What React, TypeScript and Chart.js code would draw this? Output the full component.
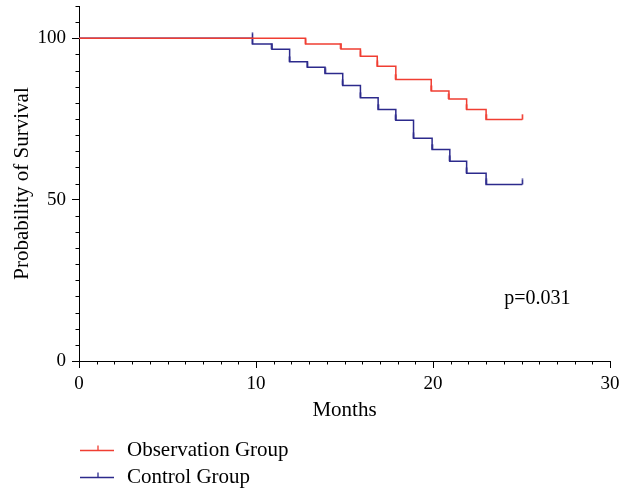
import React, { useEffect, useRef } from 'react';
import { Chart, registerables } from 'chart.js';

Chart.register(...registerables);

const FONT = "'Liberation Serif', 'Times New Roman', serif";
const RED = 'rgb(240, 62, 50)';
const BLUE = 'rgb(44, 42, 140)';

// Kaplan–Meier curves (month of step, survival % after the step)
const obsMonths = [0, 12.8, 14.8, 15.9, 16.85, 17.9, 19.9, 20.9, 21.9, 23.0, 25.05];
const obsSurvival = [100, 98.2, 96.7, 94.4, 91.3, 87.2, 83.7, 81.2, 77.9, 74.8, 74.8];
const ctlMonths = [0, 9.8, 10.9, 11.9, 12.9, 13.9, 14.9, 15.9, 16.9, 17.9, 18.9, 19.95, 20.95, 21.9, 23.0, 25.05];
const ctlSurvival = [100, 98.2, 96.6, 92.7, 91.0, 89.1, 85.4, 81.6, 77.9, 74.6, 69.0, 65.5, 61.9, 58.2, 54.7, 54.7];

// censor marks
const obsCensorMonths = [12.8, 14.8, 15.9, 16.85, 17.9, 19.9, 20.9, 21.9, 23.0, 25.05];
const obsCensorSurvival = [98.2, 96.7, 94.4, 91.3, 87.2, 83.7, 81.2, 77.9, 74.8, 74.8];
const ctlCensorMonths = [9.8, 9.8, 10.9, 11.9, 12.9, 13.9, 14.9, 15.9, 16.9, 17.9, 18.9, 19.95, 20.95, 21.9, 23.0, 25.05];
const ctlCensorSurvival = [100, 98.2, 96.6, 92.7, 91.0, 89.1, 85.4, 81.6, 77.9, 74.6, 69.0, 65.5, 61.9, 58.2, 54.7, 54.7];

const seriesLabels = ['Observation Group', 'Control Group'];
const xTickValues = [0, 10, 20, 30];
const yTickValues = [0, 50, 100];
const xMinorTicks = Array.from({ length: 31 }, (_, i) => i).filter((v) => v % 10 !== 0);
const yMinorTicks = Array.from({ length: 23 }, (_, i) => i * 5).filter((v) => v % 50 !== 0);
const xTitle = 'Months';
const yTitle = 'Probability of Survival';
const pValueText = 'p=0.031';
const pValueMonth = 25.9;
const pValueSurvival = 19.4;

function makeCensorMark(color: string) {
  const c = document.createElement('canvas');
  c.width = 3;
  c.height = 12;
  const g = c.getContext('2d')!;
  g.strokeStyle = color;
  g.lineWidth = 1.6;
  g.beginPath();
  g.moveTo(1.5, 0.5);
  g.lineTo(1.5, 6);
  g.stroke();
  return c;
}

const decorPlugin = {
  id: 'decor',
  afterDraw(chart: any) {
    const { ctx, chartArea } = chart;
    const x = chart.scales.x;
    const y = chart.scales.y;
    ctx.save();
    ctx.strokeStyle = '#000';
    ctx.lineWidth = 1;
    for (const v of xMinorTicks) {
      const px = Math.round(x.getPixelForValue(v)) + 0.5;
      ctx.beginPath();
      ctx.moveTo(px, chartArea.bottom);
      ctx.lineTo(px, chartArea.bottom + 3.5);
      ctx.stroke();
    }
    for (const v of yMinorTicks) {
      const py = Math.round(y.getPixelForValue(v)) + 0.5;
      ctx.beginPath();
      ctx.moveTo(chartArea.left - 3.5, py);
      ctx.lineTo(chartArea.left, py);
      ctx.stroke();
    }
    // p value
    ctx.fillStyle = '#000';
    ctx.font = `20px ${FONT}`;
    ctx.textAlign = 'center';
    ctx.textBaseline = 'middle';
    ctx.fillText(pValueText, x.getPixelForValue(pValueMonth), y.getPixelForValue(pValueSurvival));
    // legend
    const colors = [RED, BLUE];
    ctx.font = `21px ${FONT}`;
    seriesLabels.forEach((label, i) => {
      const cy = Math.round(x.bottom + 27 + i * 27) + 0.5;
      const lx = chartArea.left + 1;
      ctx.strokeStyle = colors[i];
      ctx.lineWidth = 1.3;
      ctx.beginPath();
      ctx.moveTo(lx, cy);
      ctx.lineTo(lx + 34, cy);
      ctx.moveTo(lx + 18, cy);
      ctx.lineTo(lx + 18, cy - 5);
      ctx.stroke();
      ctx.fillStyle = '#000';
      ctx.textAlign = 'left';
      ctx.textBaseline = 'middle';
      ctx.fillText(label, lx + 47, cy);
    });
    ctx.restore();
  },
};

export default function App() {
  const ref = useRef<HTMLCanvasElement>(null);
  useEffect(() => {
    document.body.style.margin = '0';
    const canvas = ref.current!;
    const obsMark = makeCensorMark(RED);
    const ctlMark = makeCensorMark(BLUE);
    const chart = new Chart(canvas, {
      type: 'scatter',
      data: {
        datasets: [
          {
            label: seriesLabels[0],
            data: obsMonths.map((m, i) => ({ x: m, y: obsSurvival[i] })),
            showLine: true,
            stepped: 'before',
            borderColor: RED,
            borderWidth: 1.5,
            pointRadius: 0,
          },
          {
            label: seriesLabels[1],
            data: ctlMonths.map((m, i) => ({ x: m, y: ctlSurvival[i] })),
            showLine: true,
            stepped: 'before',
            borderColor: BLUE,
            borderWidth: 1.5,
            pointRadius: 0,
          },
          {
            label: 'obs-censor',
            data: obsCensorMonths.map((m, i) => ({ x: m, y: obsCensorSurvival[i] })),
            showLine: false,
            pointStyle: obsMark as any,
            pointRadius: 3,
          },
          {
            label: 'ctl-censor',
            data: ctlCensorMonths.map((m, i) => ({ x: m, y: ctlCensorSurvival[i] })),
            showLine: false,
            pointStyle: ctlMark as any,
            pointRadius: 3,
          },
        ],
      },
      options: {
        animation: false,
        responsive: false,
        events: [],
        layout: { padding: { top: 6, right: 22, left: 0, bottom: 68 } },
        plugins: { legend: { display: false }, tooltip: { enabled: false } },
        scales: {
          x: {
            type: 'linear',
            min: 0,
            max: 30,
            afterBuildTicks: (s: any) => {
              s.ticks = xTickValues.map((v) => ({ value: v }));
            },
            afterFit: (s: any) => {
              s.height = 62;
              s.paddingLeft = 0;
              s.paddingRight = 0;
            },
            border: { color: '#000', width: 1 },
            grid: { drawOnChartArea: false, drawTicks: true, tickLength: 7, color: '#000' },
            ticks: { color: '#000', padding: 5, font: { family: FONT, size: 19 }, maxRotation: 0 },
            title: { display: true, text: xTitle, color: '#000', font: { family: FONT, size: 21 }, padding: 0 },
          },
          y: {
            type: 'linear',
            min: 0,
            max: 110,
            afterBuildTicks: (s: any) => {
              s.ticks = yTickValues.map((v) => ({ value: v }));
            },
            afterFit: (s: any) => {
              s.width = 79;
              s.paddingTop = 0;
              s.paddingBottom = 0;
            },
            border: { color: '#000', width: 1 },
            grid: { drawOnChartArea: false, drawTicks: true, tickLength: 7, color: '#000' },
            ticks: { color: '#000', padding: 6, font: { family: FONT, size: 19 } },
            title: { display: true, text: yTitle, color: '#000', font: { family: FONT, size: 21 }, padding: { top: 10, bottom: 0 } },
          },
        },
      },
      plugins: [decorPlugin],
    } as any);
    return () => chart.destroy();
  }, []);
  return (
    <div style={{ width: 632, height: 491 }}>
      <canvas ref={ref} width={632} height={491} />
    </div>
  );
}
